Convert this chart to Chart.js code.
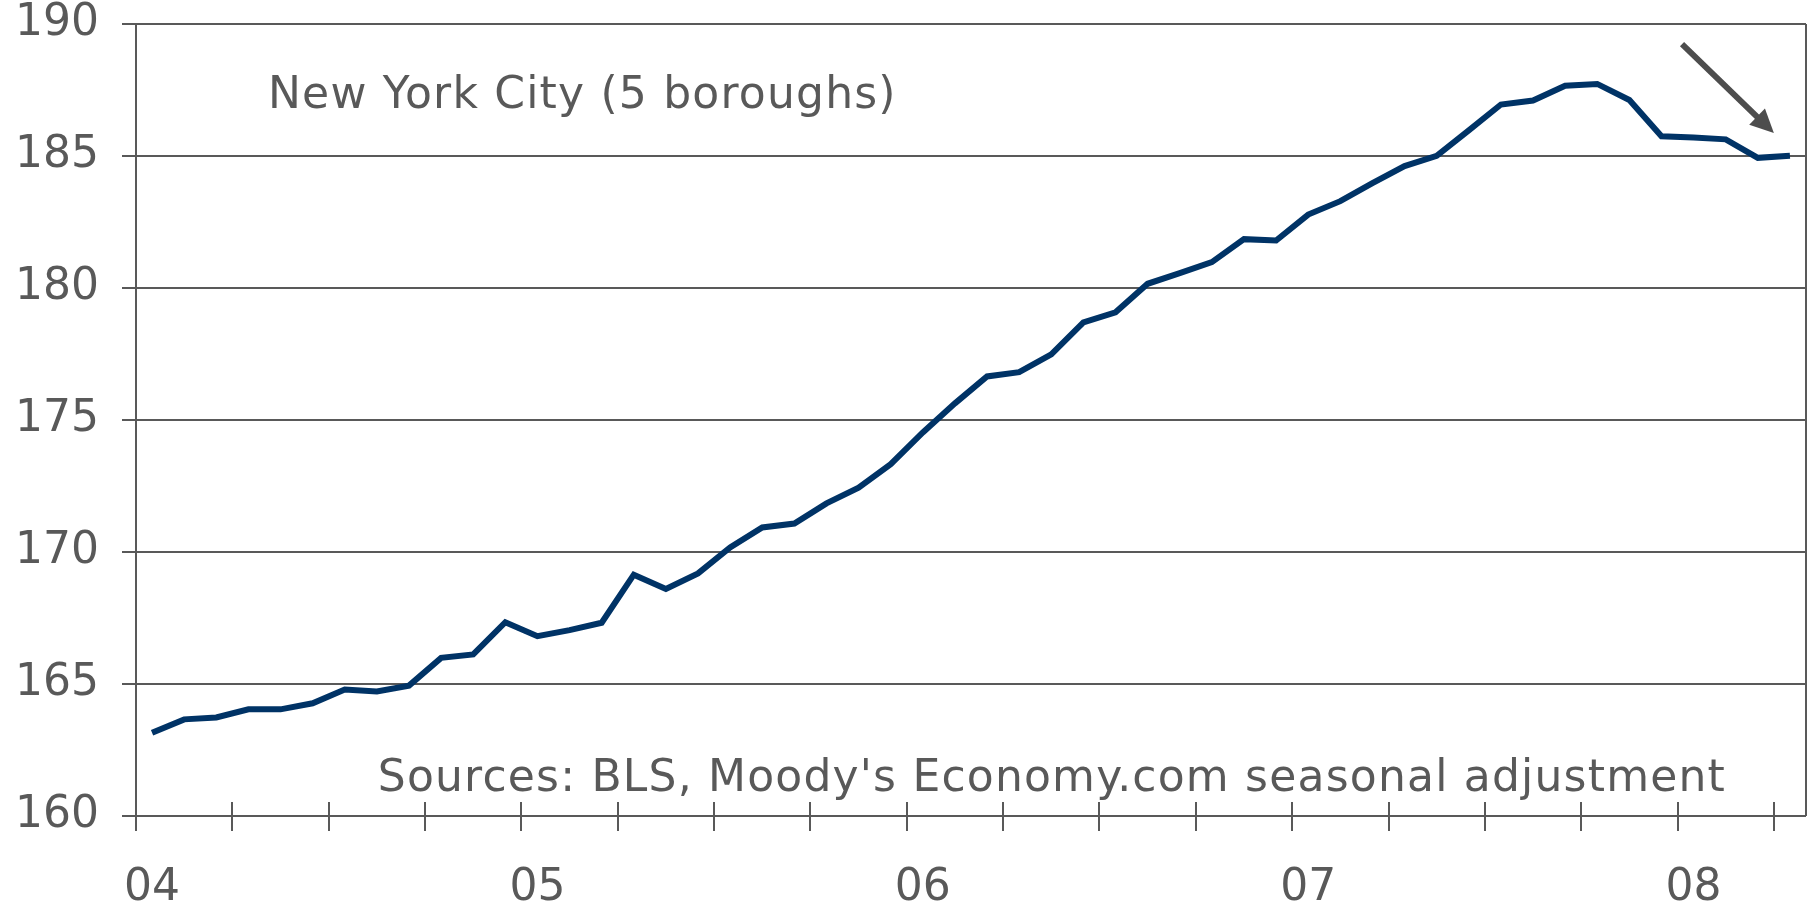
<!DOCTYPE html>
<html>
<head>
<meta charset="utf-8">
<script src="https://cdn.jsdelivr.net/npm/chart.js@4/dist/chart.umd.min.js"></script>
<style>
  html, body { margin: 0; padding: 0; background: #ffffff; }
  canvas { display: block; }
</style>
</head>
<body>
<canvas id="chart" width="1810" height="905"></canvas>
<script>
'use strict';

// monthly, Jan 2004 - Apr 2008
const months = [
  'Jan-04', 'Feb-04', 'Mar-04', 'Apr-04', 'May-04', 'Jun-04', 'Jul-04', 'Aug-04', 'Sep-04', 'Oct-04', 'Nov-04', 'Dec-04',
  'Jan-05', 'Feb-05', 'Mar-05', 'Apr-05', 'May-05', 'Jun-05', 'Jul-05', 'Aug-05', 'Sep-05', 'Oct-05', 'Nov-05', 'Dec-05',
  'Jan-06', 'Feb-06', 'Mar-06', 'Apr-06', 'May-06', 'Jun-06', 'Jul-06', 'Aug-06', 'Sep-06', 'Oct-06', 'Nov-06', 'Dec-06',
  'Jan-07', 'Feb-07', 'Mar-07', 'Apr-07', 'May-07', 'Jun-07', 'Jul-07', 'Aug-07', 'Sep-07', 'Oct-07', 'Nov-07', 'Dec-07',
  'Jan-08', 'Feb-08', 'Mar-08', 'Apr-08'
];

const nycValues = [
  163.15, 163.66, 163.73, 164.04, 164.04, 164.27, 164.79, 164.72, 164.94, 165.99, 166.12, 167.34,
  166.81, 167.04, 167.32, 169.14, 168.60, 169.19, 170.17, 170.93, 171.08, 171.84, 172.44, 173.33,
  174.53, 175.63, 176.65, 176.81, 177.49, 178.70, 179.08, 180.16, 180.56, 180.98, 181.85, 181.80,
  182.78, 183.29, 183.97, 184.62, 185.01, 185.97, 186.95, 187.10, 187.66, 187.73, 187.12, 185.75,
  185.70, 185.63, 184.93, 185.01
];

const yearLabels = ['04', '05', '06', '07', '08'];
const yTicks = [160, 165, 170, 175, 180, 185, 190];

const titleText = 'New York City (5 boroughs)';
const sourceText = 'Sources: BLS, Moody\'s Economy.com seasonal adjustment';

const gray = '#595959';
const font = 'DejaVu Sans';

// crossing tick marks on x axis, right border, notes and the arrow
const extrasPlugin = {
  id: 'extras',
  afterDraw(chart) {
    const ctx = chart.ctx;
    const area = chart.chartArea;
    const x = chart.scales.x;
    const y = chart.scales.y;
    ctx.save();

    ctx.strokeStyle = gray;
    ctx.lineWidth = 2;
    for (let k = 0; k < months.length; k += 3) {
      const px = Math.round(x.getPixelForValue(k - 0.5));
      ctx.beginPath();
      ctx.moveTo(px, area.bottom - 14);
      ctx.lineTo(px, area.bottom + 15);
      ctx.stroke();
    }
    ctx.beginPath();
    ctx.moveTo(area.right, area.top);
    ctx.lineTo(area.right, area.bottom);
    ctx.stroke();

    ctx.fillStyle = gray;
    ctx.font = '44px "' + font + '"';
    ctx.letterSpacing = '1.2px';
    ctx.textBaseline = 'alphabetic';
    ctx.textAlign = 'left';
    ctx.fillText(titleText, area.left + 132, area.top + 84);
    ctx.textAlign = 'right';
    ctx.fillText(sourceText, area.right - 80, area.bottom - 25);
    ctx.letterSpacing = '0px';

    // arrow pointing at the latest readings
    const x0 = x.getPixelForValue(47.64), y0 = y.getPixelForValue(189.24);
    const x1 = x.getPixelForValue(50.5), y1 = y.getPixelForValue(185.87);
    const ang = Math.atan2(y1 - y0, x1 - x0);
    const head = 26;
    ctx.strokeStyle = '#4d4d4d';
    ctx.fillStyle = '#4d4d4d';
    ctx.lineWidth = 6;
    ctx.beginPath();
    ctx.moveTo(x0, y0);
    ctx.lineTo(x1 - head * 0.8 * Math.cos(ang), y1 - head * 0.8 * Math.sin(ang));
    ctx.stroke();
    ctx.beginPath();
    ctx.moveTo(x1, y1);
    ctx.lineTo(x1 - head * Math.cos(ang - 0.45), y1 - head * Math.sin(ang - 0.45));
    ctx.lineTo(x1 - head * Math.cos(ang + 0.45), y1 - head * Math.sin(ang + 0.45));
    ctx.closePath();
    ctx.fill();

    ctx.restore();
  }
};

const ctx = document.getElementById('chart').getContext('2d');

new Chart(ctx, {
  type: 'line',
  data: {
    labels: months,
    datasets: [{
      label: 'New York City',
      data: nycValues,
      borderColor: '#003366',
      borderWidth: 6,
      pointRadius: 0,
      tension: 0,
      fill: false
    }]
  },
  options: {
    responsive: false,
    animation: false,
    layout: { padding: { top: 24, right: 4, left: 0, bottom: 0 } },
    plugins: {
      legend: { display: false },
      tooltip: { enabled: false }
    },
    scales: {
      x: {
        offset: true,
        grid: { display: false },
        border: { display: false },
        afterFit(scale) {
          scale.height = 89;
          scale.paddingLeft = 0;
          scale.paddingRight = 0;
        },
        ticks: {
          autoSkip: false,
          maxRotation: 0,
          padding: 38,
          color: gray,
          font: { family: font, size: 44 },
          callback(value, index) {
            return index % 12 === 0 ? yearLabels[index / 12] : '';
          }
        }
      },
      y: {
        min: 160,
        max: 190,
        afterFit(scale) {
          scale.width = 136;
          scale.paddingTop = 0;
          scale.paddingBottom = 0;
        },
        afterBuildTicks(scale) { scale.ticks = yTicks.map(v => ({ value: v })); },
        grid: { color: gray, lineWidth: 2, tickLength: 14 },
        border: { color: gray, width: 2 },
        ticks: {
          padding: 23,
          color: gray,
          font: { family: font, size: 44 }
        }
      }
    }
  },
  plugins: [extrasPlugin]
});
</script>
</body>
</html>
